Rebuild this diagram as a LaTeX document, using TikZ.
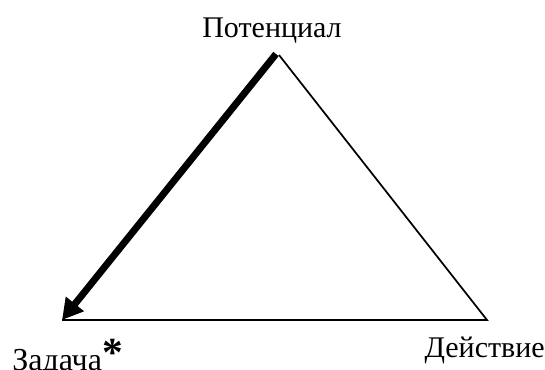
\documentclass[tikz,border=0pt]{standalone}
\usepackage{fontspec}
\setmainfont{Liberation Serif}
\usetikzlibrary{arrows.meta}
\begin{document}
\begin{tikzpicture}[x=0.75pt,y=-0.75pt,
  lbl/.style={inner sep=0pt,font=\fontsize{22.5}{27}\selectfont},
  thinline/.style={line width=1.3pt},
  thickarrow/.style={line width=5.2pt,-{Triangle[length=15.5pt,width=16.5pt]}}]
\useasboundingbox (0,0) rectangle (545,369);
\coordinate (T) at (279,55);
\coordinate (Tk) at (276,54);
\coordinate (L) at (62,320);
\coordinate (R) at (487,320);
\draw[thinline] (L) -- (R) -- (T);
\draw[thickarrow] (Tk) -- (L);
\node[lbl,anchor=base] (pot) at (272,37) {Потенциал};
\node[lbl,anchor=base west,font=\fontsize{24}{29}\selectfont] (zad) at (12,370) {Задача\raisebox{0.12em}{\fontsize{31}{31}\selectfont\textbf{*}}};
\node[lbl,anchor=base east] (dei) at (545,357) {Действие};
\end{tikzpicture}
\end{document}
